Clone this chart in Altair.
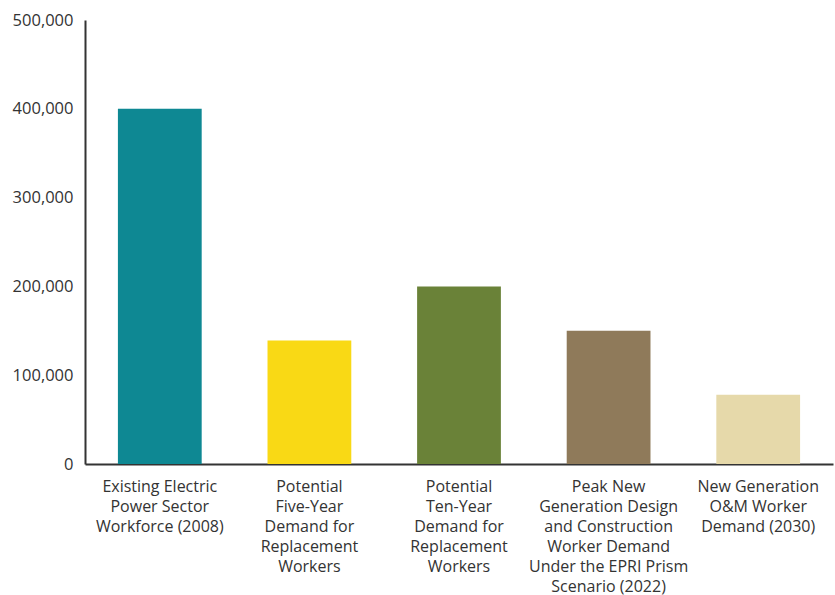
import altair as alt
import pandas as pd

categories = [
    "Existing Electric|Power Sector|Workforce (2008)",
    "Potential|Five-Year|Demand for|Replacement|Workers",
    "Potential|Ten-Year|Demand for|Replacement|Workers",
    "Peak New|Generation Design|and Construction|Worker Demand|Under the EPRI Prism|Scenario (2022)",
    "New Generation|O&M Worker|Demand (2030)",
]
values = [400000, 139000, 200000, 150000, 78000]
colors = ["#0E8893", "#F9D915", "#6A8238", "#8F7A5A", "#E6D9AA"]

df = pd.DataFrame({"cat": categories, "val": values})

chart = alt.Chart(df).mark_bar().encode(
    x=alt.X("cat:N", sort=None, title=None,
            scale=alt.Scale(paddingInner=0.44, paddingOuter=0.22),
            axis=alt.Axis(labelExpr="split(datum.label, '|')", labelAngle=0,
                          labelFont="Open Sans", labelFontSize=16, labelColor="#333333",
                          labelLineHeight=20, labelPadding=14, ticks=False,
                          domainColor="#333333", domainWidth=2, labelLimit=300)),
    y=alt.Y("val:Q", title=None,
            scale=alt.Scale(domain=[0, 500000], nice=False),
            axis=alt.Axis(values=[0, 100000, 200000, 300000, 400000, 500000],
                          labelExpr="format(datum.value, ',')",
                          grid=False, ticks=False, labelFont="Open Sans", labelFontSize=16.5,
                          labelColor="#333333", labelPadding=12,
                          domainColor="#333333", domainWidth=2)),
    color=alt.Color("cat:N", sort=None, legend=None,
                    scale=alt.Scale(domain=categories, range=colors)),
).properties(
    width=748, height=444,
    autosize=alt.AutoSizeParams(type="none"),
    padding={"left": 85, "top": 20, "right": 2, "bottom": 131},
).configure_view(stroke=None)

chart.save("out.html", embed_options={"renderer": "svg", "actions": False})
